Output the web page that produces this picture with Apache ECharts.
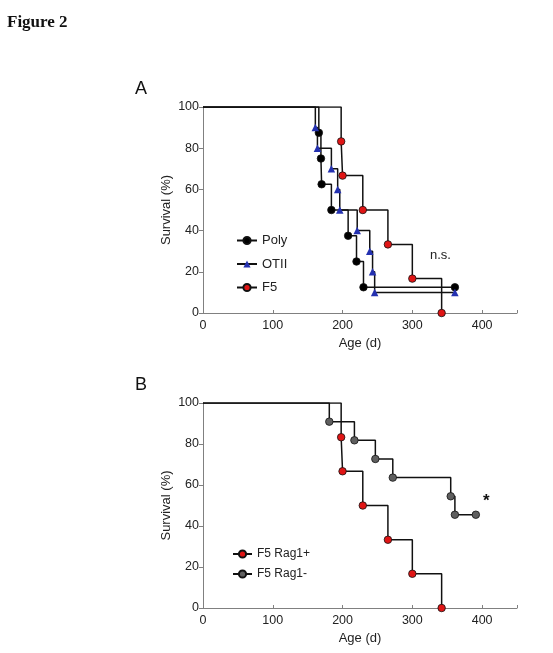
<!DOCTYPE html>
<html>
<head>
<meta charset="utf-8">
<script src="https://cdn.jsdelivr.net/npm/echarts@6/dist/echarts.min.js"></script>
<style>
  html, body { margin: 0; padding: 0; background: #fff; }
  #chart { width: 553px; height: 653px; }
</style>
</head>
<body>
<div id="chart"></div>
<script>
// survival data (days, % surviving)
var polyDays = [0, 166, 169, 170, 184, 208, 220, 230, 361];
var polySurv = [100, 87.5, 75, 62.5, 50, 37.5, 25, 12.5, 12.5];

var otiiDays = [0, 161, 164, 184, 193, 196, 221, 239, 243, 246, 361];
var otiiSurv = [100, 90, 80, 70, 60, 50, 40, 30, 20, 10, 10];

var f5Days = [0, 198, 200, 229, 265, 300, 342];
var f5Surv = [100, 83.3, 66.7, 50, 33.3, 16.7, 0];

var ragNegDays = [0, 181, 217, 247, 272, 355, 361, 391];
var ragNegSurv = [100, 90.9, 81.8, 72.7, 63.6, 54.5, 45.5, 45.5];

var xTicks = [0, 100, 200, 300, 400];
var yTicks = [0, 20, 40, 60, 80, 100];

// first point is the start of the curve, drawn without a symbol
function pairs(days, surv) {
  return days.map(function(d, i) {
    var p = {value: [d, surv[i]]};
    if (i === 0) p.symbol = 'none';
    return p;
  });
}

function kmSeries(name, days, surv, symbol, fill, idx) {
  return {
    name: name,
    type: 'line',
    step: 'end',
    xAxisIndex: idx,
    yAxisIndex: idx,
    data: pairs(days, surv),
    symbol: symbol,
    symbolSize: 7.5,
    showAllSymbol: true,
    lineStyle: {color: '#111', width: 1.5},
    itemStyle: {color: fill, borderColor: '#111', borderWidth: symbol === 'triangle' ? 0 : 0.8},
    z: 3
  };
}

var axisGray = '#808080';
var txt = '#222';
var font = 'Liberation Sans, Arial, sans-serif';

function xAx(idx) {
  return {
    gridIndex: idx,
    type: 'value',
    min: 0,
    max: 450,
    interval: 100,
    name: 'Age (d)',
    nameLocation: 'middle',
    nameGap: 24,
    nameMoveOverlap: false,
    nameTextStyle: {color: txt, fontSize: 13, fontFamily: font},
    axisLine: {lineStyle: {color: axisGray, width: 1}},
    axisTick: {inside: true, length: 3, lineStyle: {color: axisGray}},
    axisLabel: {
      color: txt, fontSize: 12.5, fontFamily: font, margin: 6,
      formatter: function(v) { return xTicks.indexOf(v) >= 0 ? String(v) : ''; }
    },
    splitLine: {show: false}
  };
}

function yAx(idx) {
  return {
    gridIndex: idx,
    type: 'value',
    min: 0,
    max: 100,
    interval: 20,
    name: 'Survival (%)',
    nameLocation: 'middle',
    nameGap: 30,
    nameMoveOverlap: false,
    nameTextStyle: {color: txt, fontSize: 13, fontFamily: font},
    axisLine: {show: true, lineStyle: {color: axisGray, width: 1}},
    axisTick: {show: true, length: 4, lineStyle: {color: axisGray}},
    axisLabel: {
      color: txt, fontSize: 12.5, fontFamily: font, margin: 4,
      formatter: function(v) { return yTicks.indexOf(v) >= 0 ? String(v) : ''; }
    },
    splitLine: {show: false}
  };
}

var chart = echarts.init(document.getElementById('chart'));
var option = {
  animation: false,
  backgroundColor: '#fff',
  title: [
    {text: 'Figure 2', left: 2, top: 9,
     textStyle: {fontFamily: 'Liberation Serif, Times New Roman, serif', fontWeight: 'bold', fontSize: 17, color: '#111'}},
    {text: 'A', left: 130, top: 75, textStyle: {fontFamily: font, fontWeight: 'normal', fontSize: 18, color: '#111'}},
    {text: 'B', left: 130, top: 371, textStyle: {fontFamily: font, fontWeight: 'normal', fontSize: 18, color: '#111'}},
    {text: 'n.s.', left: 425, top: 244, textStyle: {fontFamily: font, fontWeight: 'normal', fontSize: 13, color: txt}},
    {text: '*', left: 478, top: 488, textStyle: {fontFamily: font, fontWeight: 'bold', fontSize: 17, color: '#111'}}
  ],
  grid: [
    {left: 203, top: 107, width: 314, height: 206},
    {left: 203, top: 403, width: 314, height: 205}
  ],
  xAxis: [xAx(0), xAx(1)],
  yAxis: [yAx(0), yAx(1)],
  legend: [
    {
      data: ['Poly', 'OTII', 'F5'],
      orient: 'vertical',
      left: 231, top: 229,
      itemWidth: 20, itemHeight: 9, itemGap: 10.5,
      textStyle: {color: txt, fontSize: 13, fontFamily: font}
    },
    {
      data: ['F5 Rag1+', 'F5 Rag1-'],
      orient: 'vertical',
      left: 227, top: 543,
      itemWidth: 19, itemHeight: 9, itemGap: 8,
      textStyle: {color: txt, fontSize: 12, fontFamily: font}
    }
  ],
  series: [
    kmSeries('Poly', polyDays, polySurv, 'circle', '#000', 0),
    kmSeries('OTII', otiiDays, otiiSurv, 'triangle', '#2431b0', 0),
    kmSeries('F5', f5Days, f5Surv, 'circle', '#e01515', 0),
    kmSeries('F5 Rag1+', f5Days, f5Surv, 'circle', '#e01515', 1),
    kmSeries('F5 Rag1-', ragNegDays, ragNegSurv, 'circle', '#5f5f5f', 1)
  ]
};
chart.setOption(option);
</script>
</body>
</html>
